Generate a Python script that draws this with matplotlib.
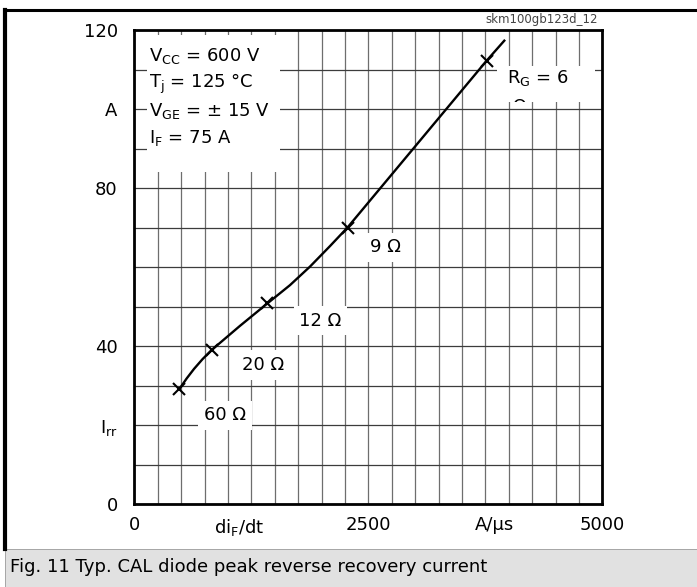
import numpy as np
import matplotlib
matplotlib.use("Agg")
import matplotlib.pyplot as plt
from matplotlib.patches import Rectangle
from matplotlib.lines import Line2D
from matplotlib.transforms import Bbox, TransformedBbox

plt.rcParams['font.family'] = ['DejaVu Sans']
plt.rcParams['mathtext.default'] = 'regular'

# curve: di_F/dt [A/us] vs I_rr [A]
curve_didt = [481, 560, 638, 730, 827, 1129, 1423, 1663, 1877, 2091, 2278, 3763, 3953]
curve_irr = [29.1, 31.8, 34.2, 36.7, 39.0, 45.1, 50.8, 55.4, 60.1, 65.3, 70.0, 112.2, 117.3]

# marked gate resistor points
rg_didt = [481, 827, 1423, 2278, 3763]
rg_irr = [29.1, 39.0, 50.8, 70.0, 112.2]
rg_labels = ["60 Ω", "20 Ω", "12 Ω", "9 Ω"]
rg_label_x = [969, 1375, 1989, 2678]
rg_label_y = [22.5, 35.2, 46.4, 65.0]

xtick_pos = [0, 1119, 2500, 3843, 5000]
xtick_labels = ["0", "di$_F$/dt", "2500", "A/µs", "5000"]
ytick_pos = [0, 20, 40, 80, 100, 120]
ytick_labels = ["0", "I$_{rr}$", "40", "80", "A", "120"]

cond_lines = ["V$_{CC}$ = 600 V", "T$_j$ = 125 °C", "V$_{GE}$ = ± 15 V", "I$_F$ = 75 A"]
cond_y = [112.2, 105.3, 98.2, 91.4]

W, H = 697, 587
fig = plt.figure(figsize=(W / 100, H / 100), dpi=100)
ax = fig.add_axes([134.3 / W, 1 - 504 / H, 468 / W, 474 / H])

ax.set_xlim(0, 5000)
ax.set_ylim(0, 120)
ax.set_xticks(xtick_pos)
ax.set_xticklabels(xtick_labels)
ax.set_yticks(ytick_pos)
ax.set_yticklabels(ytick_labels)
ax.set_xticks(np.arange(0, 5001, 250), minor=True)
ax.set_yticks(np.arange(0, 121, 10), minor=True)
ax.xaxis.remove_overlapping_locs = False
ax.yaxis.remove_overlapping_locs = False
ax.tick_params(which='both', length=0, labelsize=13)
ax.tick_params(axis='x', pad=9)
ax.tick_params(axis='y', pad=12)
ax.set_axisbelow(True)
ax.xaxis.grid(True, which='minor', color='#6e6e6e', lw=0.9)
ax.yaxis.grid(True, which='minor', color='#3c3c3c', lw=0.9)
for s in ax.spines.values():
    s.set_linewidth(2)

# white box behind the test conditions
ax.add_patch(Rectangle((136, 84.0), 1420, 34.7, facecolor='white',
                       edgecolor='none', zorder=1.5))
for txt, yy in zip(cond_lines, cond_y):
    ax.text(160, yy, txt, fontsize=13, va='baseline', ha='left', zorder=3)

ax.plot(curve_didt, curve_irr, color='black', lw=1.7, zorder=2.5)
ax.plot(rg_didt, rg_irr, ls='none', marker='x', ms=8, mew=1.5,
        color='black', zorder=2.6)

for lab, lx, ly in zip(rg_labels, rg_label_x, rg_label_y):
    ax.text(lx, ly, lab, fontsize=13, ha='center', va='center', zorder=3,
            bbox=dict(facecolor='white', edgecolor='none', pad=4))

# R_G label, cut off by its box as in the original
ax.add_patch(Rectangle((3875, 101.8), 1047, 9.1, facecolor='white',
                       edgecolor='none', zorder=1.5))
ax.text(3982, 106.6, "R$_G$ = 6", fontsize=13, va='baseline', ha='left', zorder=3)
om = ax.text(4040, 99.2, "Ω", fontsize=13, va='baseline', ha='left', zorder=3)
om.set_clip_box(TransformedBbox(Bbox([[3875, 101.8], [4922, 111]]), ax.transData))
om.set_clip_on(True)

fig.text(598 / W, 1 - 19 / H, "skm100gb123d_12", fontsize=8.5, color='#444444',
         ha='right', va='center')

# page frame and caption
fig.add_artist(Line2D([5 / W, 1], [1 - 10 / H, 1 - 10 / H], color='black', lw=2.2))
fig.add_artist(Line2D([5.3 / W, 5.3 / W], [1 - 10 / H, 38 / H], color='black', lw=3))
fig.add_artist(Rectangle((5 / W, 0), 1, 38 / H, transform=fig.transFigure,
                         facecolor='#e1e1e1', edgecolor='#999999', lw=0.6))
fig.text(10 / W, 20 / H, "Fig. 11 Typ. CAL diode peak reverse recovery current",
         fontsize=13, ha='left', va='center')

fig.savefig("out.png", dpi=100)
